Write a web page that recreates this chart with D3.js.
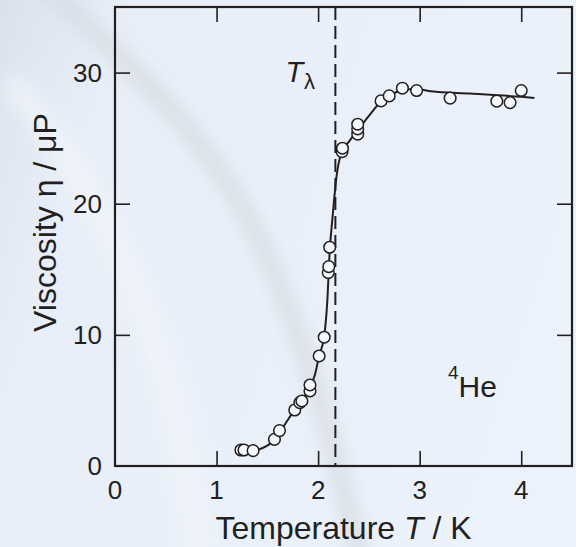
<!DOCTYPE html>
<html><head><meta charset="utf-8">
<script src="https://cdn.jsdelivr.net/npm/d3@7"></script>
<style>
html,body{margin:0;padding:0;background:#e6edf6;}
svg{display:block;}
text{font-family:"Liberation Sans",Arial,Helvetica,sans-serif;fill:#231f20;}
</style></head>
<body>
<svg id="chart" width="576" height="547"></svg>
<script>
// ---- data ----
const pointT   = [1.24,1.27,1.36,1.57,1.62,1.77,1.82,1.84,1.92,1.92,2.01,2.06,2.10,2.105,2.114,2.236,2.24,2.39,2.39,2.39,2.62,2.70,2.83,2.97,3.30,3.76,3.89,4.00];
const pointEta = [1.22,1.22,1.17,2.03,2.70,4.27,4.83,4.96,5.72,6.18,8.39,9.82,14.75,15.2,16.68,23.97,24.23,25.3,25.7,26.06,27.84,28.22,28.81,28.63,28.05,27.82,27.71,28.63];
const curveT   = [1.40,1.50,1.57,1.65,1.77,1.85,1.92,1.97,2.01,2.06,2.09,2.115,2.14,2.16,2.18,2.20,2.236,2.30,2.39,2.50,2.62,2.70,2.80,2.90,3.00,3.11,3.50,4.00,4.13];
const curveEta = [1.22,1.55,2.0,2.9,4.3,5.1,6.0,7.0,8.4,9.9,12.5,16.5,18.8,20.5,22.0,23.0,24.0,24.7,25.6,26.7,27.8,28.25,28.6,28.72,28.7,28.58,28.4,28.15,28.07];
const lambdaT = 2.17;
const xTicks = [0,1,2,3,4];
const yTicks = [0,10,20,30];

const svg = d3.select("#chart");
const W = 576, H = 547;
const m = {left:115, right:4, top:7, bottom:81};

// background
const defs = svg.append("defs");
const bg = defs.append("linearGradient").attr("id","bg").attr("x1","0").attr("y1","0").attr("x2","1").attr("y2","0.3");
bg.append("stop").attr("offset","0").attr("stop-color","#d9e2ec");
bg.append("stop").attr("offset","0.2").attr("stop-color","#e8eef7");
bg.append("stop").attr("offset","1").attr("stop-color","#ecf2fb");
defs.append("filter").attr("id","blur").append("feGaussianBlur").attr("stdDeviation","9");
svg.append("rect").attr("width",W).attr("height",H).attr("fill","url(#bg)");
svg.append("path").attr("d","M40,-20 C120,60 200,120 260,240 C300,330 330,420 360,560")
  .attr("fill","none").attr("stroke","#d6dae2").attr("stroke-width",18).attr("filter","url(#blur)").attr("opacity",0.8);
svg.append("path").attr("d","M10,80 C60,140 100,200 140,300 C170,380 190,460 200,560")
  .attr("fill","none").attr("stroke","#f3f6fb").attr("stroke-width",26).attr("filter","url(#blur)").attr("opacity",0.7);

const x = d3.scaleLinear().domain([0,4.5]).range([m.left, W-m.right]);
const y = d3.scaleLinear().domain([0,35]).range([H-m.bottom, m.top]);
const ink = "#231f20";

// axes with inward ticks
const tl = 15;
const gx = svg.append("g").attr("transform",`translate(0,${y(0)})`)
  .call(d3.axisBottom(x).tickValues(xTicks.slice(1)).tickSize(-tl).tickFormat(""));
const gxt = svg.append("g").attr("transform",`translate(0,${y(35)})`)
  .call(d3.axisTop(x).tickValues(xTicks.slice(1)).tickSize(-tl).tickFormat(""));
const gy = svg.append("g").attr("transform",`translate(${x(0)},0)`)
  .call(d3.axisLeft(y).tickValues(yTicks.slice(1)).tickSize(-tl).tickFormat(""));
const gyr = svg.append("g").attr("transform",`translate(${x(4.5)},0)`)
  .call(d3.axisRight(y).tickValues(yTicks.slice(1)).tickSize(-tl).tickFormat(""));
[gx,gxt,gy,gyr].forEach(g=>{
  g.select(".domain").remove();
  g.selectAll("line").attr("stroke",ink).attr("stroke-width",1.6);
});

// tick labels
svg.append("g").selectAll("text").data(xTicks).join("text")
  .attr("x",d=>x(d)).attr("y",y(0)+33).attr("text-anchor","middle")
  .attr("font-size",26).text(d=>d);
svg.append("g").selectAll("text").data(yTicks).join("text")
  .attr("x",x(0)-13).attr("y",d=>y(d)+9).attr("text-anchor","end")
  .attr("font-size",26).text(d=>d);

// frame
svg.append("rect").attr("x",x(0)).attr("y",y(35)).attr("width",x(4.5)-x(0)).attr("height",y(0)-y(35))
  .attr("fill","none").attr("stroke",ink).attr("stroke-width",2.2);

// lambda line
svg.append("line").attr("x1",x(lambdaT)).attr("x2",x(lambdaT)).attr("y1",y(35)).attr("y2",y(0))
  .attr("stroke",ink).attr("stroke-width",2).attr("stroke-dasharray","13,6");

// curve
const line = d3.line().x(d=>x(d[0])).y(d=>y(d[1])).curve(d3.curveMonotoneX);
svg.append("path").datum(curveT.map((t,i)=>[t,curveEta[i]]))
  .attr("d",line).attr("fill","none").attr("stroke",ink).attr("stroke-width",2);

// points
svg.append("g").selectAll("circle").data(pointT.map((t,i)=>[t,pointEta[i]])).join("circle")
  .attr("cx",d=>x(d[0])).attr("cy",d=>y(d[1])).attr("r",5.8)
  .attr("fill","#f5f8fc").attr("stroke",ink).attr("stroke-width",1.5);

// labels
const tlab = svg.append("text").attr("x",x(lambdaT)-50).attr("y",82).attr("font-size",29);
tlab.append("tspan").attr("font-style","italic").text("T");
tlab.append("tspan").attr("font-size",22).attr("dy",7).attr("dx",1).text("λ");

const he = svg.append("text").attr("x",448).attr("y",397).attr("font-size",30);
he.append("tspan").attr("font-size",19).attr("dy",-18).text("4");
he.append("tspan").attr("dy",18).text("He");

const xt = svg.append("text").attr("x",(x(0)+x(4.5))/2).attr("y",539).attr("text-anchor","middle").attr("font-size",32);
xt.append("tspan").text("Temperature ");
xt.append("tspan").attr("font-style","italic").text("T");
xt.append("tspan").text(" / K");

svg.append("text").attr("transform",`translate(56,${(y(0)+y(35))/2 - 14}) rotate(-90)`)
  .attr("text-anchor","middle").attr("font-size",32).text("Viscosity η / μP");
</script>
</body></html>
